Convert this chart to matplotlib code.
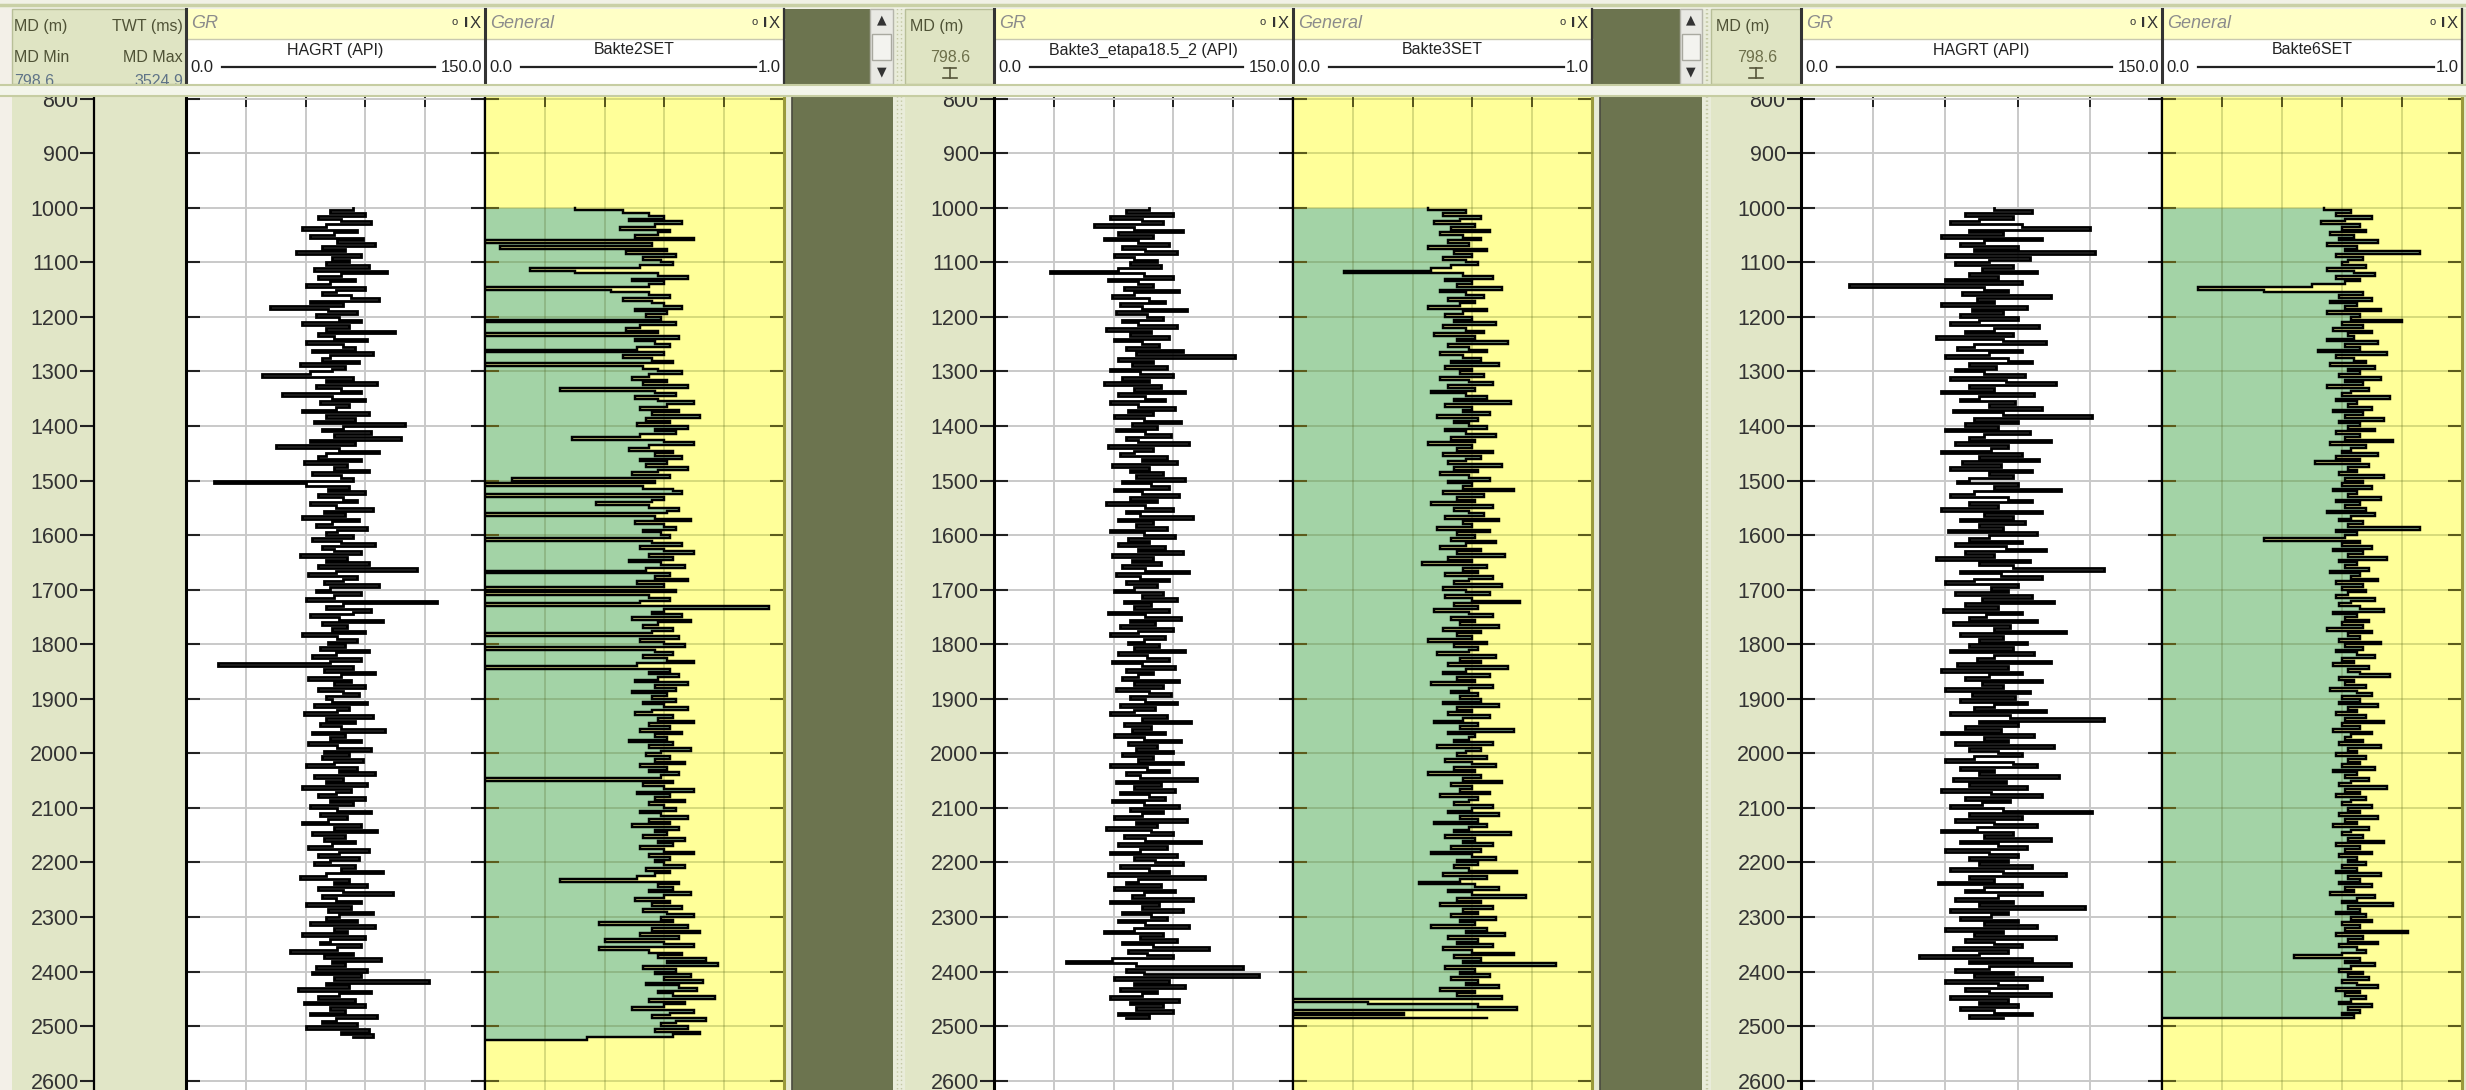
#!/usr/bin/env python3
"""Three-well GR / SET log panel (screenshot-style redraw)."""

import matplotlib.pyplot as plt
import numpy as np
from matplotlib.patches import Rectangle

W, H = 2466, 1090
DPI = 100

STEP_M = 5.0
LOG_TOP_M = 1000.0
DEPTH_TICKS = list(range(800, 2700, 100))
GR_TICKS = [0, 30, 60, 90, 120, 150]
SET_TICKS = [0.0, 0.2, 0.4, 0.6, 0.8, 1.0]

GR_NAMES = ["HAGRT (API)", "Bakte3_etapa18.5_2 (API)", "HAGRT (API)"]
SET_NAMES = ["Bakte2SET", "Bakte3SET", "Bakte6SET"]
GR_SCALE = ("0.0", "150.0")
SET_SCALE = ("0.0", "1.0")

# gamma ray, API, one sample every 5 m from 1000 m
GR_WELL1 = [
    84, 72, 90, 66, 78, 93, 70, 58, 86, 74, 62, 89, 76, 95, 68, 80, 55, 88, 73, 82,
    70, 92, 64, 101, 78, 66, 85, 72, 60, 90, 75, 68, 83, 97, 62, 79, 42, 71, 86, 65,
    77, 88, 58, 82, 70, 105, 66, 74, 91, 60, 79, 85, 63, 94, 72, 68, 87, 57, 80, 73,
    62, 38, 84, 70, 96, 65, 78, 88, 48, 73, 90, 67, 82, 75, 58, 92, 70, 85, 64, 110,
    79, 68, 93, 74, 108, 62, 85, 45, 77, 97, 70, 66, 88, 59, 81, 74, 92, 63, 78, 84,
    14, 60, 82, 71, 90, 66, 79, 86, 62, 75, 94, 69, 80, 58, 87, 73, 65, 91, 76, 70,
    84, 63, 78, 95, 68, 74, 88, 57, 81, 70, 92, 66, 116, 75, 61, 86, 79, 69, 97, 72,
    65, 88, 74, 60, 126, 79, 70, 93, 84, 62, 77, 99, 68, 81, 73, 90, 58, 76, 86, 71,
    80, 67, 92, 75, 63, 88, 72, 16, 84, 69, 95, 78, 61, 83, 74, 90, 66, 79, 87, 70,
    73, 91, 64, 82, 76, 59, 94, 70, 85, 67, 78, 100, 63, 80, 72, 88, 61, 76, 93, 69,
    82, 68, 89, 74, 60, 86, 77, 95, 64, 79, 70, 91, 58, 83, 75, 66, 90, 72, 84, 62,
    76, 93, 67, 81, 71, 58, 88, 74, 96, 63, 80, 69, 85, 73, 61, 92, 77, 66, 87, 72,
    64, 85, 78, 99, 70, 57, 82, 74, 91, 66, 79, 104, 68, 75, 88, 60, 83, 71, 94, 77,
    70, 86, 62, 95, 74, 81, 58, 90, 72, 67, 88, 76, 52, 84, 69, 98, 73, 80, 65, 91,
    63, 88, 74, 122, 70, 82, 56, 93, 77, 66, 85, 59, 90, 72, 80, 62, 96, 75, 68, 86,
    60, 92, 78, 94, 84,
]
GR_WELL2 = [
    78, 66, 90, 58, 74, 85, 50, 70, 95, 62, 80, 55, 72, 88, 64, 76, 92, 60, 70, 82,
    68, 84, 62, 28, 75, 90, 57, 72, 80, 65, 93, 70, 59, 78, 86, 63, 74, 97, 61, 77,
    85, 64, 72, 92, 56, 79, 68, 88, 60, 74, 83, 66, 95, 71, 121, 62, 80, 69, 87, 58,
    73, 90, 64, 78, 55, 84, 70, 96, 62, 76, 86, 58, 72, 91, 67, 80, 60, 75, 94, 69,
    82, 61, 76, 89, 66, 72, 98, 57, 80, 70, 63, 87, 74, 92, 59, 78, 68, 85, 71, 96,
    64, 79, 88, 60, 74, 93, 68, 82, 56, 76, 90, 66, 73, 100, 62, 80, 71, 87, 58, 75,
    91, 67, 78, 62, 86, 72, 95, 59, 80, 69, 84, 64, 76, 98, 61, 73, 88, 66, 82, 70,
    60, 85, 74, 92, 65, 79, 70, 88, 57, 76, 94, 68, 81, 63, 90, 72, 58, 86, 75, 67,
    83, 70, 96, 62, 77, 88, 59, 74, 91, 66, 80, 72, 64, 93, 70, 85, 61, 78, 89, 68,
    76, 92, 63, 81, 70, 58, 87, 74, 99, 65, 79, 69, 86, 60, 75, 94, 67, 82, 71, 90,
    64, 80, 72, 95, 58, 77, 88, 66, 73, 102, 61, 84, 70, 91, 63, 78, 86, 59, 75, 93,
    68, 85, 74, 60, 97, 71, 82, 56, 79, 90, 65, 76, 104, 62, 87, 73, 58, 92, 70, 81,
    95, 63, 78, 88, 57, 106, 72, 66, 84, 60, 91, 75, 69, 100, 58, 83, 74, 95, 64, 79,
    87, 62, 76, 98, 70, 55, 85, 73, 92, 64, 80, 108, 67, 77, 90, 59, 36, 71, 125, 66,
    75, 133, 60, 88, 70, 96, 63, 82, 74, 58, 93, 68, 85, 71, 90, 62, 78, 66,
]
GR_WELL3 = [
    80, 96, 68, 88, 74, 62, 92, 120, 70, 84, 58, 100, 76, 66, 90, 72, 122, 60, 95, 78,
    64, 88, 75, 98, 70, 82, 60, 92, 20, 76, 86, 67, 104, 73, 80, 58, 94, 71, 84, 66,
    90, 74, 62, 99, 80, 68, 88, 56, 84, 102, 72, 65, 92, 78, 60, 86, 96, 70, 81, 64,
    76, 93, 62, 85, 106, 70, 80, 58, 97, 74, 66, 89, 78, 100, 63, 84, 121, 72, 90, 68,
    82, 60, 95, 76, 70, 104, 64, 86, 79, 58, 92, 74, 99, 67, 83, 62, 96, 78, 88, 70,
    65, 90, 80, 108, 72, 62, 86, 96, 70, 82, 58, 100, 76, 88, 66, 93, 74, 84, 61, 98,
    78, 70, 92, 64, 85, 102, 68, 80, 56, 95, 74, 88, 126, 66, 83, 100, 72, 60, 90, 79,
    86, 64, 96, 75, 105, 68, 82, 59, 92, 77, 70, 98, 63, 87, 80, 110, 66, 84, 74, 94,
    70, 88, 62, 97, 80, 73, 104, 65, 86, 58, 92, 78, 68, 100, 75, 84, 60, 95, 71, 89,
    66, 94, 80, 72, 102, 62, 87, 126, 74, 90, 68, 83, 58, 97, 76, 86, 64, 105, 70, 82,
    92, 72, 60, 88, 98, 66, 80, 74, 107, 63, 85, 70, 94, 58, 79, 100, 68, 87, 75, 62,
    84, 121, 70, 92, 64, 80, 98, 73, 58, 88, 76, 104, 66, 82, 94, 60, 78, 90, 70, 86,
    74, 96, 62, 84, 110, 70, 80, 57, 92, 76, 68, 100, 82, 64, 88, 74, 118, 62, 86, 79,
    66, 90, 76, 98, 60, 84, 72, 106, 68, 80, 92, 63, 86, 74, 49, 96, 70, 112, 78, 64,
    88, 72, 100, 60, 82, 94, 68, 78, 104, 62, 86, 74, 90, 66, 80, 96, 70, 84,
]

# SET curves, fraction 0-1, same 5 m sampling
SET_WELL1 = [
    0.30, 0.46, 0.55, 0.60, 0.48, 0.66, 0.57, 0.45, 0.62, 0.58, 0.50, 0.70, 0.00, 0.56, 0.05, 0.61, 0.47, 0.64, 0.53, 0.59,
    0.63, 0.52, 0.15, 0.30, 0.58, 0.68, 0.49, 0.60, 0.55, 0.00, 0.42, 0.55, 0.62, 0.46, 0.56, 0.60, 0.66, 0.50, 0.61, 0.54,
    0.59, 0.00, 0.64, 0.52, 0.47, 0.58, 0.00, 0.65, 0.50, 0.57, 0.62, 0.51, 0.00, 0.60, 0.46, 0.56, 0.63, 0.00, 0.53, 0.58,
    0.66, 0.55, 0.49, 0.61, 0.53, 0.68, 0.25, 0.57, 0.64, 0.50, 0.58, 0.70, 0.61, 0.52, 0.65, 0.56, 0.72, 0.54, 0.62, 0.51,
    0.68, 0.57, 0.64, 0.52, 0.29, 0.60, 0.70, 0.55, 0.48, 0.63, 0.57, 0.66, 0.52, 0.61, 0.54, 0.68, 0.58, 0.49, 0.62, 0.09,
    0.57, 0.00, 0.53, 0.63, 0.66, 0.00, 0.60, 0.56, 0.37, 0.55, 0.65, 0.61, 0.00, 0.57, 0.69, 0.50, 0.60, 0.64, 0.53, 0.59,
    0.62, 0.00, 0.56, 0.66, 0.52, 0.60, 0.70, 0.55, 0.63, 0.48, 0.59, 0.67, 0.54, 0.00, 0.62, 0.57, 0.68, 0.51, 0.60, 0.00,
    0.64, 0.00, 0.55, 0.62, 0.52, 0.00, 0.95, 0.60, 0.56, 0.66, 0.49, 0.69, 0.58, 0.53, 0.63, 0.56, 0.00, 0.65, 0.52, 0.60,
    0.67, 0.00, 0.57, 0.63, 0.53, 0.61, 0.70, 0.51, 0.00, 0.62, 0.55, 0.65, 0.58, 0.50, 0.68, 0.57, 0.64, 0.49, 0.61, 0.56,
    0.64, 0.53, 0.60, 0.68, 0.56, 0.50, 0.63, 0.58, 0.70, 0.55, 0.62, 0.52, 0.66, 0.57, 0.61, 0.48, 0.63, 0.55, 0.69, 0.59,
    0.54, 0.62, 0.57, 0.67, 0.52, 0.61, 0.55, 0.65, 0.59, 0.00, 0.63, 0.53, 0.60, 0.70, 0.51, 0.62, 0.57, 0.67, 0.55, 0.60,
    0.64, 0.52, 0.59, 0.68, 0.55, 0.62, 0.49, 0.65, 0.57, 0.61, 0.53, 0.67, 0.58, 0.63, 0.52, 0.60, 0.70, 0.55, 0.62, 0.57,
    0.60, 0.67, 0.54, 0.62, 0.57, 0.51, 0.25, 0.65, 0.58, 0.63, 0.55, 0.69, 0.60, 0.50, 0.62, 0.56, 0.66, 0.53, 0.61, 0.70,
    0.59, 0.63, 0.38, 0.68, 0.56, 0.72, 0.52, 0.65, 0.40, 0.60, 0.70, 0.38, 0.55, 0.66, 0.58, 0.74, 0.61, 0.78, 0.53, 0.64,
    0.57, 0.69, 0.60, 0.73, 0.54, 0.65, 0.71, 0.58, 0.63, 0.77, 0.55, 0.67, 0.60, 0.49, 0.70, 0.62, 0.56, 0.74, 0.64, 0.59,
    0.68, 0.57, 0.72, 0.63, 0.34, 0.00,
]
SET_WELL2 = [
    0.45, 0.58, 0.50, 0.63, 0.56, 0.47, 0.61, 0.53, 0.66, 0.49, 0.57, 0.63, 0.52, 0.59, 0.45, 0.65, 0.54, 0.60, 0.50, 0.58,
    0.62, 0.53, 0.46, 0.17, 0.57, 0.67, 0.51, 0.60, 0.55, 0.70, 0.49, 0.58, 0.64, 0.52, 0.61, 0.56, 0.45, 0.65, 0.57, 0.51,
    0.60, 0.54, 0.68, 0.50, 0.58, 0.64, 0.47, 0.61, 0.55, 0.72, 0.52, 0.59, 0.65, 0.49, 0.57, 0.63, 0.53, 0.69, 0.51, 0.60,
    0.56, 0.64, 0.49, 0.59, 0.67, 0.52, 0.61, 0.46, 0.58, 0.65, 0.54, 0.73, 0.51, 0.60, 0.57, 0.66, 0.48, 0.62, 0.54, 0.59,
    0.65, 0.51, 0.58, 0.68, 0.53, 0.61, 0.45, 0.60, 0.55, 0.67, 0.50, 0.63, 0.58, 0.52, 0.70, 0.54, 0.62, 0.49, 0.59, 0.66,
    0.52, 0.60, 0.57, 0.74, 0.50, 0.64, 0.55, 0.61, 0.46, 0.67, 0.54, 0.59, 0.64, 0.51, 0.69, 0.57, 0.60, 0.48, 0.66, 0.55,
    0.61, 0.53, 0.68, 0.58, 0.49, 0.63, 0.55, 0.71, 0.52, 0.60, 0.43, 0.65, 0.57, 0.62, 0.51, 0.67, 0.59, 0.54, 0.70, 0.50,
    0.58, 0.66, 0.51, 0.60, 0.76, 0.54, 0.62, 0.47, 0.59, 0.67, 0.53, 0.61, 0.56, 0.69, 0.50, 0.63, 0.55, 0.60, 0.45, 0.65,
    0.54, 0.62, 0.59, 0.48, 0.68, 0.56, 0.63, 0.52, 0.72, 0.58, 0.50, 0.66, 0.55, 0.61, 0.46, 0.67, 0.59, 0.53, 0.62, 0.56,
    0.63, 0.50, 0.69, 0.55, 0.60, 0.52, 0.66, 0.57, 0.47, 0.62, 0.56, 0.74, 0.52, 0.61, 0.59, 0.54, 0.67, 0.48, 0.63, 0.58,
    0.55, 0.65, 0.51, 0.60, 0.68, 0.54, 0.61, 0.45, 0.63, 0.57, 0.70, 0.53, 0.60, 0.56, 0.66, 0.49, 0.62, 0.59, 0.54, 0.67,
    0.60, 0.52, 0.69, 0.56, 0.62, 0.47, 0.65, 0.59, 0.54, 0.73, 0.51, 0.61, 0.57, 0.67, 0.53, 0.63, 0.46, 0.60, 0.68, 0.55,
    0.62, 0.54, 0.59, 0.75, 0.50, 0.65, 0.56, 0.42, 0.61, 0.69, 0.52, 0.60, 0.78, 0.55, 0.63, 0.49, 0.67, 0.57, 0.62, 0.53,
    0.68, 0.56, 0.61, 0.46, 0.65, 0.58, 0.71, 0.52, 0.62, 0.55, 0.67, 0.50, 0.60, 0.74, 0.54, 0.63, 0.57, 0.88, 0.51, 0.61,
    0.56, 0.66, 0.53, 0.62, 0.58, 0.69, 0.49, 0.61, 0.55, 0.70, 0.00, 0.25, 0.62, 0.75, 0.00, 0.37, 0.00, 0.65,
]
SET_WELL3 = [
    0.54, 0.63, 0.58, 0.70, 0.61, 0.53, 0.66, 0.60, 0.68, 0.56, 0.64, 0.59, 0.72, 0.55, 0.65, 0.61, 0.86, 0.58, 0.67, 0.62,
    0.60, 0.68, 0.55, 0.64, 0.71, 0.58, 0.66, 0.61, 0.50, 0.12, 0.34, 0.67, 0.59, 0.70, 0.56, 0.65, 0.61, 0.73, 0.55, 0.66,
    0.63, 0.80, 0.60, 0.67, 0.57, 0.70, 0.62, 0.64, 0.55, 0.72, 0.61, 0.66, 0.52, 0.75, 0.58, 0.64, 0.68, 0.56, 0.71, 0.62,
    0.66, 0.59, 0.73, 0.61, 0.67, 0.55, 0.69, 0.63, 0.60, 0.76, 0.58, 0.65, 0.62, 0.70, 0.57, 0.67, 0.61, 0.74, 0.59, 0.66,
    0.62, 0.71, 0.58, 0.66, 0.61, 0.77, 0.56, 0.68, 0.63, 0.60, 0.72, 0.58, 0.66, 0.51, 0.69, 0.62, 0.65, 0.59, 0.74, 0.61,
    0.67, 0.60, 0.70, 0.57, 0.65, 0.62, 0.73, 0.58, 0.66, 0.61, 0.68, 0.55, 0.71, 0.63, 0.59, 0.67, 0.62, 0.86, 0.58, 0.65,
    0.61, 0.34, 0.66, 0.60, 0.70, 0.57, 0.67, 0.62, 0.75, 0.59, 0.65, 0.61, 0.69, 0.56, 0.66, 0.63, 0.72, 0.58, 0.67, 0.60,
    0.68, 0.62, 0.58, 0.71, 0.63, 0.59, 0.66, 0.74, 0.57, 0.65, 0.61, 0.69, 0.60, 0.67, 0.55, 0.70, 0.62, 0.66, 0.59, 0.73,
    0.61, 0.67, 0.58, 0.65, 0.71, 0.60, 0.64, 0.57, 0.69, 0.62, 0.66, 0.76, 0.59, 0.64, 0.61, 0.68, 0.56, 0.65, 0.70, 0.60,
    0.66, 0.59, 0.72, 0.62, 0.65, 0.58, 0.68, 0.61, 0.74, 0.60, 0.66, 0.57, 0.70, 0.63, 0.61, 0.67, 0.59, 0.73, 0.62, 0.65,
    0.58, 0.68, 0.62, 0.66, 0.60, 0.71, 0.57, 0.65, 0.61, 0.69, 0.63, 0.59, 0.75, 0.61, 0.66, 0.58, 0.68, 0.63, 0.60, 0.70,
    0.62, 0.66, 0.59, 0.72, 0.61, 0.65, 0.57, 0.69, 0.63, 0.60, 0.67, 0.62, 0.74, 0.58, 0.66, 0.61, 0.70, 0.59, 0.65, 0.62,
    0.68, 0.60, 0.65, 0.58, 0.73, 0.62, 0.66, 0.59, 0.70, 0.61, 0.64, 0.56, 0.71, 0.65, 0.60, 0.77, 0.62, 0.66, 0.58, 0.68,
    0.63, 0.70, 0.60, 0.66, 0.61, 0.82, 0.58, 0.67, 0.62, 0.72, 0.59, 0.65, 0.68, 0.60, 0.44, 0.66, 0.61, 0.71, 0.63, 0.59,
    0.67, 0.62, 0.69, 0.60, 0.65, 0.72, 0.58, 0.66, 0.61, 0.68, 0.63, 0.59, 0.70, 0.62, 0.66, 0.60, 0.64, 0.00,
]

# screen layout, pixels
DATA_TOP = 97
DEPTH_TOP, DEPTH_BOTTOM = 797, 2617
PANELS = [
    dict(box=(12, 186), axis=(94, 186), gr=(186, 485), st=(485, 784),
         olive=(792, 893), head_olive=(784, 870), scroll=(870, 893), sep=(893, 905)),
    dict(box=(905, 994), axis=None, gr=(994, 1293), st=(1293, 1592),
         olive=(1600, 1702), head_olive=(1592, 1680), scroll=(1680, 1702), sep=(1702, 1711)),
    dict(box=(1711, 1801), axis=None, gr=(1801, 2162), st=(2162, 2462),
         olive=None, head_olive=None, scroll=None, sep=None),
]

OLIVE = "#6c744f"
PALE = "#e1e6c7"
YELLOW = "#ffff99"
GREEN = "#a3d3a6"
HEAD_YELLOW = "#ffffc6"
LABEL = "#4f5236"
FONT = ["Liberation Sans", "DejaVu Sans"]

plt.rcParams["font.family"] = FONT


def px_axes(fig, x0, y0, x1, y1, **kw):
    return fig.add_axes([x0 / W, 1 - y1 / H, (x1 - x0) / W, (y1 - y0) / H], **kw)


def depths(values):
    return LOG_TOP_M + STEP_M * np.arange(len(values))


def style_track(ax, xmax, xticks, tick_color):
    ax.set_xlim(0, xmax)
    ax.set_ylim(DEPTH_BOTTOM, DEPTH_TOP)
    ax.set_xticks(xticks)
    ax.set_yticks(DEPTH_TICKS)
    ax.tick_params(axis="x", top=True, bottom=False, labeltop=False, labelbottom=False,
                   direction="in", length=7, width=1.4, color=tick_color)
    for side in ("top", "bottom"):
        ax.spines[side].set_visible(False)


def gr_track(fig, p, values, labelled):
    x0, x1 = p["gr"]
    ax = px_axes(fig, x0, DATA_TOP, x1, H)
    ax.set_facecolor("white")
    style_track(ax, 150, GR_TICKS, "#222222")
    ax.grid(True, color="#c9c9c9", lw=1.4)
    ax.set_axisbelow(True)
    ax.tick_params(axis="y", left=True, right=True, direction="inout" if labelled else "in",
                   length=20 if labelled else 10, width=1.5, color="#222222",
                   labelleft=labelled, labelsize=15.5, labelcolor="#333333", pad=1)
    ax.spines["left"].set_linewidth(2.2)
    ax.spines["right"].set_linewidth(1.6)
    ax.plot(values, depths(values), drawstyle="steps-pre", color="black", lw=2.0,
            solid_joinstyle="miter")
    return ax


def set_track(fig, p, values):
    x0, x1 = p["st"]
    ax = px_axes(fig, x0, DATA_TOP, x1, H)
    ax.set_facecolor(YELLOW)
    style_track(ax, 1.0, SET_TICKS, "#55551a")
    d = depths(values)
    ax.fill_betweenx(d, 0, values, step="post", color=GREEN, lw=0)
    ax.grid(True, color="#4a5a12", alpha=0.22, lw=1.4)
    ax.set_axisbelow("line")
    ax.tick_params(axis="y", left=True, right=True, direction="in", length=10,
                   width=1.5, color="#5c5c1c", labelleft=False)
    ax.spines["left"].set_linewidth(1.6)
    ax.spines["right"].set_color("#9a9a3c")
    ax.spines["right"].set_linewidth(2.2)
    ax.plot(values, d, drawstyle="steps-pre", color="black", lw=1.75,
            solid_joinstyle="miter")
    return ax


def depth_axis(fig, p):
    x0, x1 = p["axis"]
    ax = px_axes(fig, x0, DATA_TOP, x1, H)
    ax.set_facecolor(PALE)
    ax.set_ylim(DEPTH_BOTTOM, DEPTH_TOP)
    ax.set_xticks([])
    ax.set_yticks(DEPTH_TICKS)
    ax.tick_params(axis="y", direction="out", length=10, width=1.5, color="#222222",
                   labelsize=15.5, labelcolor="#333333", pad=1)
    for side in ("top", "bottom", "right"):
        ax.spines[side].set_visible(False)
    ax.spines["left"].set_linewidth(1.6)


def rect(ax, x0, y0, x1, y1, fc, ec="none", lw=0, z=1):
    ax.add_patch(Rectangle((x0, y0), x1 - x0, y1 - y0, fc=fc, ec=ec, lw=lw, zorder=z))


def cell_header(hd, x0, x1, title, name, lo, hi, hi_gap):
    rect(hd, x0, 9, x1, 39, HEAD_YELLOW)
    rect(hd, x0, 39, x1, 84, "white")
    hd.plot([x0, x1], [39, 39], color="#c8c8b0", lw=1, zorder=2)
    hd.plot([x0, x0], [9, 84], color="#333333", lw=2.2, zorder=3)
    hd.text(x0 + 5, 24, title, fontsize=13, style="italic", color="#8c8c8c", va="center")
    hd.text(x1 - 33, 22, "o", fontsize=8, color="#333333", va="center")
    hd.text(x1 - 21, 23, "I", fontsize=11, fontweight="bold", color="#333333", va="center")
    hd.text(x1 - 4, 23, "X", fontsize=12, color="#333333", va="center", ha="right")
    hd.text((x0 + x1) / 2, 50, name, fontsize=11.5, color="#222222", ha="center", va="center")
    hd.text(x0 + 4, 67, lo, fontsize=12, color="#222222", va="center")
    hd.text(x1 - 3, 67, hi, fontsize=12, color="#222222", va="center", ha="right")
    hd.plot([x0 + 36, x1 - hi_gap], [67, 67], color="#222222", lw=1.6, zorder=2)


def scrollbar(hd, x0, x1):
    rect(hd, x0, 9, x1, 84, "#e9e9e4", ec="#b5b5ab", lw=1)
    rect(hd, x0 + 2, 34, x1 - 2, 60, "#f3f3ef", ec="#a9a9a0", lw=1, z=2)
    cx = (x0 + x1) / 2
    hd.text(cx, 20, "\u25b2", fontsize=9, color="#333333", ha="center", va="center",
            family="DejaVu Sans")
    hd.text(cx, 72, "\u25bc", fontsize=9, color="#333333", ha="center", va="center",
            family="DejaVu Sans")


def draw_header(hd, i, p):
    bx0, bx1 = p["box"]
    rect(hd, bx0, 9, bx1, 84, "#dfe4c3", ec="#b8bf98", lw=1)
    if i == 0:
        hd.text(bx0 + 2, 27, "MD (m)", fontsize=11.5, color=LABEL, va="center")
        hd.text(bx1 - 3, 27, "TWT (ms)", fontsize=11.5, color=LABEL, va="center", ha="right")
        hd.text(bx0 + 2, 57, "MD Min", fontsize=11.5, color=LABEL, va="center")
        hd.text(bx1 - 3, 57, "MD Max", fontsize=11.5, color=LABEL, va="center", ha="right")
        hd.text(bx0 + 2, 82, "798.6", fontsize=11.5, color="#5f7387", va="center")
        hd.text(bx1 - 3, 82, "3524.9", fontsize=11.5, color="#5f7387", va="center", ha="right")
    else:
        cx = (bx0 + bx1) / 2
        hd.text(bx0 + 5, 27, "MD (m)", fontsize=11.5, color=LABEL, va="center")
        hd.text(cx + 1, 58, "798.6", fontsize=11.5, color="#6d6f4a", va="center", ha="center")
        hd.plot([cx - 6, cx + 6], [68, 68], color="#55553a", lw=1.2)
        hd.plot([cx - 7, cx + 7], [78, 78], color="#55553a", lw=1.2)
        hd.plot([cx, cx], [68, 78], color="#55553a", lw=1.2)

    cell_header(hd, p["gr"][0], p["gr"][1], "GR", GR_NAMES[i], *GR_SCALE, 50)
    cell_header(hd, p["st"][0], p["st"][1], "General", SET_NAMES[i], *SET_SCALE, 28)
    hd.plot([p["st"][1], p["st"][1]], [9, 84], color="#333333", lw=1.6, zorder=3)
    if p["head_olive"]:
        rect(hd, p["head_olive"][0], 9, p["head_olive"][1], 84, OLIVE)
    if p["scroll"]:
        scrollbar(hd, *p["scroll"])


def main():
    fig = plt.figure(figsize=(W / DPI, H / DPI), dpi=DPI)
    fig.patch.set_facecolor("#e3e7cc")

    bg = fig.add_axes([0, 0, 1, 1], zorder=0)
    bg.set_xlim(0, W)
    bg.set_ylim(H, 0)
    bg.axis("off")
    rect(bg, 0, 0, 12, H, "#f3f0e8")
    for p in PANELS:
        rect(bg, p["box"][0], DATA_TOP, p["box"][1], H, PALE)
        if p["olive"]:
            rect(bg, p["st"][1], DATA_TOP, p["olive"][0], H, "#e8ebd6")
            rect(bg, p["olive"][0], DATA_TOP, p["olive"][1], H, OLIVE)
            bg.plot([p["olive"][0], p["olive"][0]], [DATA_TOP, H], color="#4a4a40", lw=1.2)
        if p["sep"]:
            s0, s1 = p["sep"]
            rect(bg, s0, 0, s1, H, "#e9ecda")
            for x in (s0 + 4, s1 - 4):
                bg.plot([x, x], [0, H], color="#c3c8a4", lw=1, ls=(0, (1, 2)))

    gr_logs = [GR_WELL1, GR_WELL2, GR_WELL3]
    set_logs = [SET_WELL1, SET_WELL2, SET_WELL3]
    for i, p in enumerate(PANELS):
        if p["axis"]:
            depth_axis(fig, p)
        gr_track(fig, p, gr_logs[i], labelled=p["axis"] is None)
        set_track(fig, p, set_logs[i])

    hd = fig.add_axes([0, 0, 1, 1], zorder=20)
    hd.set_xlim(0, W)
    hd.set_ylim(H, 0)
    hd.axis("off")
    rect(hd, 0, 0, W, 9, "#f1f1e6", z=0)
    hd.plot([0, W], [4.5, 4.5], color="#c9d0a6", lw=2.5, zorder=1)
    for i, p in enumerate(PANELS):
        draw_header(hd, i, p)
    rect(hd, 0, 84, W, DATA_TOP, "#f3f5ea", z=6)
    hd.plot([0, W], [85, 85], color="#c6cda2", lw=1.5, zorder=7)
    hd.plot([0, W], [96, 96], color="#c6cda2", lw=1.5, zorder=7)

    fig.savefig("out.png", dpi=DPI, facecolor=fig.get_facecolor())


if __name__ == "__main__":
    main()
